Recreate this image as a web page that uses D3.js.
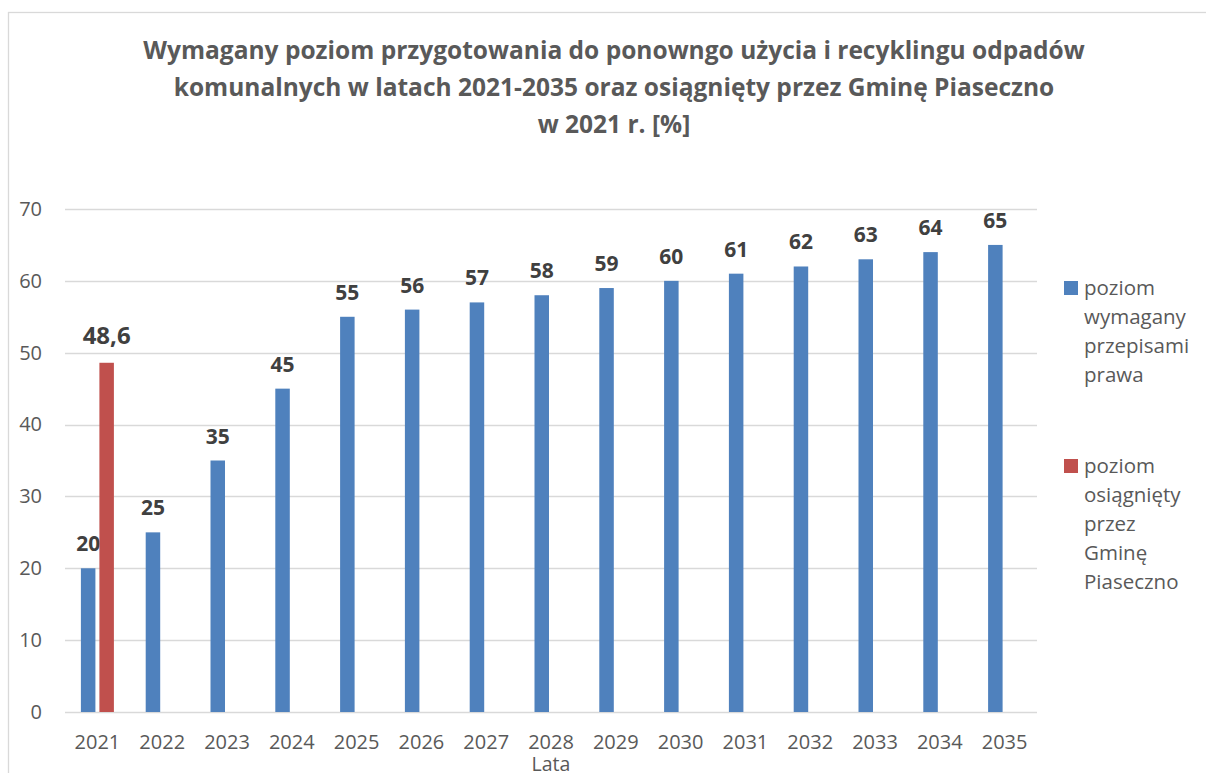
<!DOCTYPE html>
<html>
<head>
<meta charset="utf-8">
<script src="https://cdn.jsdelivr.net/npm/d3@7"></script>
<style>
  html, body { margin: 0; padding: 0; background: #fff; overflow: hidden; }
  svg { display: block; font-family: "Open Sans", "Liberation Sans", sans-serif; }
</style>
</head>
<body>
<div id="chart"></div>
<script>
// chart data
var years = ['2021', '2022', '2023', '2024', '2025', '2026', '2027', '2028',
  '2029', '2030', '2031', '2032', '2033', '2034', '2035'];
var required = [20, 25, 35, 45, 55, 56, 57, 58, 59, 60, 61, 62, 63, 64, 65];
var achieved = [48.6, null, null, null, null, null, null, null, null, null, null, null, null, null, null];
var yTicks = [0, 10, 20, 30, 40, 50, 60, 70];
var seriesNames = ['poziom wymagany przepisami prawa', 'poziom osiągnięty przez Gminę Piaseczno'];
var legendLines = [
  ['poziom', 'wymagany', 'przepisami', 'prawa'],
  ['poziom', 'osiągnięty', 'przez', 'Gminę', 'Piaseczno']
];
var titleLines = [
  'Wymagany poziom przygotowania do ponowngo użycia i recyklingu odpadów',
  'komunalnych w latach 2021-2035 oraz osiągnięty przez Gminę Piaseczno',
  'w 2021 r. [%]'
];
var axisTitle = 'Lata';
var colors = ['#4f81bd', '#c0504d'];

var w = 1206;
var h = 773;
var plot = { left: 65, right: 1037, top: 209, bottom: 712 };

var svg = d3.select('#chart')
  .append('svg')
  .attr('width', w)
  .attr('height', h);

//outer chart border (cut by the window at right and bottom)
svg.append('rect')
  .attr('x', 8.5)
  .attr('y', 12.5)
  .attr('width', 1400)
  .attr('height', 900)
  .attr('fill', 'none')
  .attr('stroke', '#d9d9d9')
  .attr('stroke-width', 1.3);

//title
var title = svg.append('g').attr('class', 'title');
title.selectAll('text')
  .data(titleLines)
  .enter()
  .append('text')
  .attr('x', 614)
  .attr('y', function(d, i) { return 59 + i * 37; })
  .attr('text-anchor', 'middle')
  .attr('fill', '#595959')
  .attr('font-weight', 'bold')
  .attr('font-size', 22)
  .text(function(d) { return d; });

//scale title font so the first line has the reference width
var firstLen = title.select('text').node().getComputedTextLength();
title.selectAll('text').attr('font-size', 22 * 942 / firstLen);

// scales
var x = d3.scaleBand()
  .domain(years)
  .range([plot.left, plot.right]);

var xSeries = d3.scaleBand()
  .domain([0, 1])
  .range([0, 33])
  .paddingInner(0.216);

var y = d3.scaleLinear()
  .domain([0, 70])
  .range([plot.bottom, plot.top]);

//gridlines
svg.append('g')
  .attr('class', 'grid')
  .selectAll('line')
  .data(yTicks)
  .enter()
  .append('line')
  .attr('x1', plot.left)
  .attr('x2', plot.right)
  .attr('y1', function(d) { return Math.round(y(d)) + 0.5; })
  .attr('y2', function(d) { return Math.round(y(d)) + 0.5; })
  .attr('stroke', '#d9d9d9')
  .attr('stroke-width', 1.4);

//y axis labels
var yAxis = d3.axisLeft(y)
  .tickValues(yTicks)
  .tickSize(0)
  .tickPadding(0);

svg.append('g')
  .attr('transform', 'translate(42,0)')
  .call(yAxis)
  .call(function(g) { g.select('.domain').remove(); })
  .selectAll('text')
  .attr('fill', '#595959')
  .attr('font-size', 20)
  .attr('font-family', '"Open Sans", "Liberation Sans", sans-serif');

//x axis labels
var xAxis = d3.axisBottom(x)
  .tickSize(0)
  .tickPadding(0);

svg.append('g')
  .attr('transform', 'translate(0,' + 735 + ')')
  .call(xAxis)
  .call(function(g) { g.select('.domain').remove(); })
  .selectAll('text')
  .attr('fill', '#595959')
  .attr('font-size', 20)
  .attr('font-family', '"Open Sans", "Liberation Sans", sans-serif');

//axis title
svg.append('text')
  .attr('x', (plot.left + plot.right) / 2)
  .attr('y', 771)
  .attr('text-anchor', 'middle')
  .attr('fill', '#595959')
  .attr('font-size', 19.5)
  .text(axisTitle);

// bars
var series = [required, achieved];
var fmt = function(v) { return String(v).replace('.', ','); };

series.forEach(function(values, s) {
  var rows = years.map(function(yr, i) { return { year: yr, value: values[i] }; })
    .filter(function(d) { return d.value != null; });

  var g = svg.append('g').attr('class', 'series-' + s);

  g.selectAll('rect')
    .data(rows)
    .enter()
    .append('rect')
    .attr('x', function(d) { return x(d.year) + x.bandwidth() / 2 - 16.5 + xSeries(s); })
    .attr('y', function(d) { return y(d.value); })
    .attr('width', xSeries.bandwidth())
    .attr('height', function(d) { return y(0) - y(d.value); })
    .attr('fill', colors[s]);

  g.selectAll('text')
    .data(rows)
    .enter()
    .append('text')
    .attr('x', function(d) { return x(d.year) + x.bandwidth() / 2 - 16.5 + xSeries(s) + xSeries.bandwidth() / 2; })
    .attr('y', function(d) { return y(d.value) - (s === 1 ? 19 : 17); })
    .attr('text-anchor', 'middle')
    .attr('fill', '#404040')
    .attr('font-weight', 'bold')
    .attr('font-size', s === 1 ? 24 : 21)
    .text(function(d) { return fmt(d.value); });
});

// legend
var legend = svg.append('g').attr('class', 'legend');
var legendTop = [295, 473];

legendLines.forEach(function(lines, s) {
  var item = legend.append('g').attr('class', 'legend-item').attr('data-name', seriesNames[s]);

  item.append('rect')
    .attr('x', 1064)
    .attr('y', legendTop[s] - 14)
    .attr('width', 14)
    .attr('height', 14)
    .attr('fill', colors[s]);

  item.selectAll('text')
    .data(lines)
    .enter()
    .append('text')
    .attr('x', 1084)
    .attr('y', function(d, i) { return legendTop[s] + i * 29; })
    .attr('fill', '#595959')
    .attr('font-size', 20.5)
    .text(function(d) { return d; });
});
</script>
</body>
</html>
